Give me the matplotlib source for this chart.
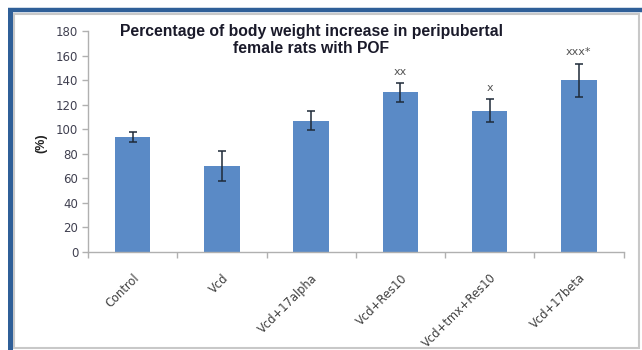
import matplotlib
matplotlib.use("Agg")
import matplotlib.pyplot as plt
from matplotlib.lines import Line2D
from matplotlib.patches import Rectangle
import numpy as np

plt.rcParams['font.family'] = ['Liberation Sans', 'DejaVu Sans']

categories = ["Control", "Vcd", "Vcd+17alpha", "Vcd+Res10", "Vcd+tmx+Res10", "Vcd+17beta"]
values = [94, 70, 107, 130, 115, 140]
errors = [4, 12.5, 8, 7.5, 9.5, 13.5]
significance = ["", "", "", "xx", "x", "xxx*"]
y_ticks = [0, 20, 40, 60, 80, 100, 120, 140, 160, 180]

W, H = 642, 350
fig = plt.figure(figsize=(W / 100, H / 100), dpi=100)
fig.patch.set_facecolor("white")

# outer frame: thin grey box plus a heavy blue edge on top and left
fig.add_artist(Rectangle((14 / W, 1 - 348 / H), (639 - 14) / W, (348 - 14) / H,
                         transform=fig.transFigure, fill=False,
                         edgecolor="#c8c8c8", linewidth=1.5))
fig.add_artist(Line2D([8 / W, 1.0], [1 - 10 / H, 1 - 10 / H], transform=fig.transFigure,
                      color="#2f5f98", linewidth=3.2, solid_capstyle="butt"))
fig.add_artist(Line2D([10.5 / W, 10.5 / W], [0, 1 - 8 / H], transform=fig.transFigure,
                      color="#2f5f98", linewidth=3.6, solid_capstyle="butt"))

ax_left, ax_right = 88 / W, 623.5 / W
ax_bottom, ax_top = 1 - 252 / H, 1 - 31 / H
ax = fig.add_axes([ax_left, ax_bottom, ax_right - ax_left, ax_top - ax_bottom])

x = np.arange(len(categories))
ax.bar(x, values, width=0.4, color="#5a8ac6", zorder=2)
ax.errorbar(x, values, yerr=errors, fmt="none", ecolor="#1e2a38",
            elinewidth=1.1, capsize=3, capthick=1.1, zorder=3)

for xi, v, e, s in zip(x, values, errors, significance):
    if s:
        ax.text(xi, v + e + 9, s, ha="center", va="center",
                fontsize=8, color="#555555", family="DejaVu Sans")

ax.set_xlim(-0.5, len(categories) - 0.5)
ax.set_ylim(0, 180)
ax.set_yticks(y_ticks)
ax.tick_params(axis="y", labelsize=8.5, colors="#b0b0b0", labelcolor="#404050",
               length=4, width=1, pad=3)
for lbl in ax.get_yticklabels():
    lbl.set_family("DejaVu Sans")

# category boundaries carry the tick marks, centres carry the labels
ax.set_xticks(np.arange(len(categories) + 1) - 0.5)
ax.set_xticklabels([])
ax.set_xticks(x, minor=True)
ax.set_xticklabels(categories, minor=True, rotation=45, ha="right",
                   rotation_mode="anchor", fontsize=8.3, color="#404040",
                   family="DejaVu Sans")
ax.tick_params(axis="x", which="major", length=4, width=1, colors="#b0b0b0")
ax.tick_params(axis="x", which="minor", length=0, pad=14)

for side in ("top", "right"):
    ax.spines[side].set_visible(False)
for side in ("left", "bottom"):
    ax.spines[side].set_color("#b0b0b0")
    ax.spines[side].set_linewidth(1)

fig.text(41 / W, 1 - 143 / H, "(%)", rotation=90, ha="center", va="center",
         fontsize=9, fontweight="bold", color="#222222")

fig.text(311 / W, 1 - 40 / H,
         "Percentage of body weight increase in peripubertal\nfemale rats with POF",
         ha="center", va="center", fontsize=11.3, fontweight="bold",
         color="#1a1a2a", linespacing=1.1)

fig.savefig("out.png", dpi=100, facecolor="white")
